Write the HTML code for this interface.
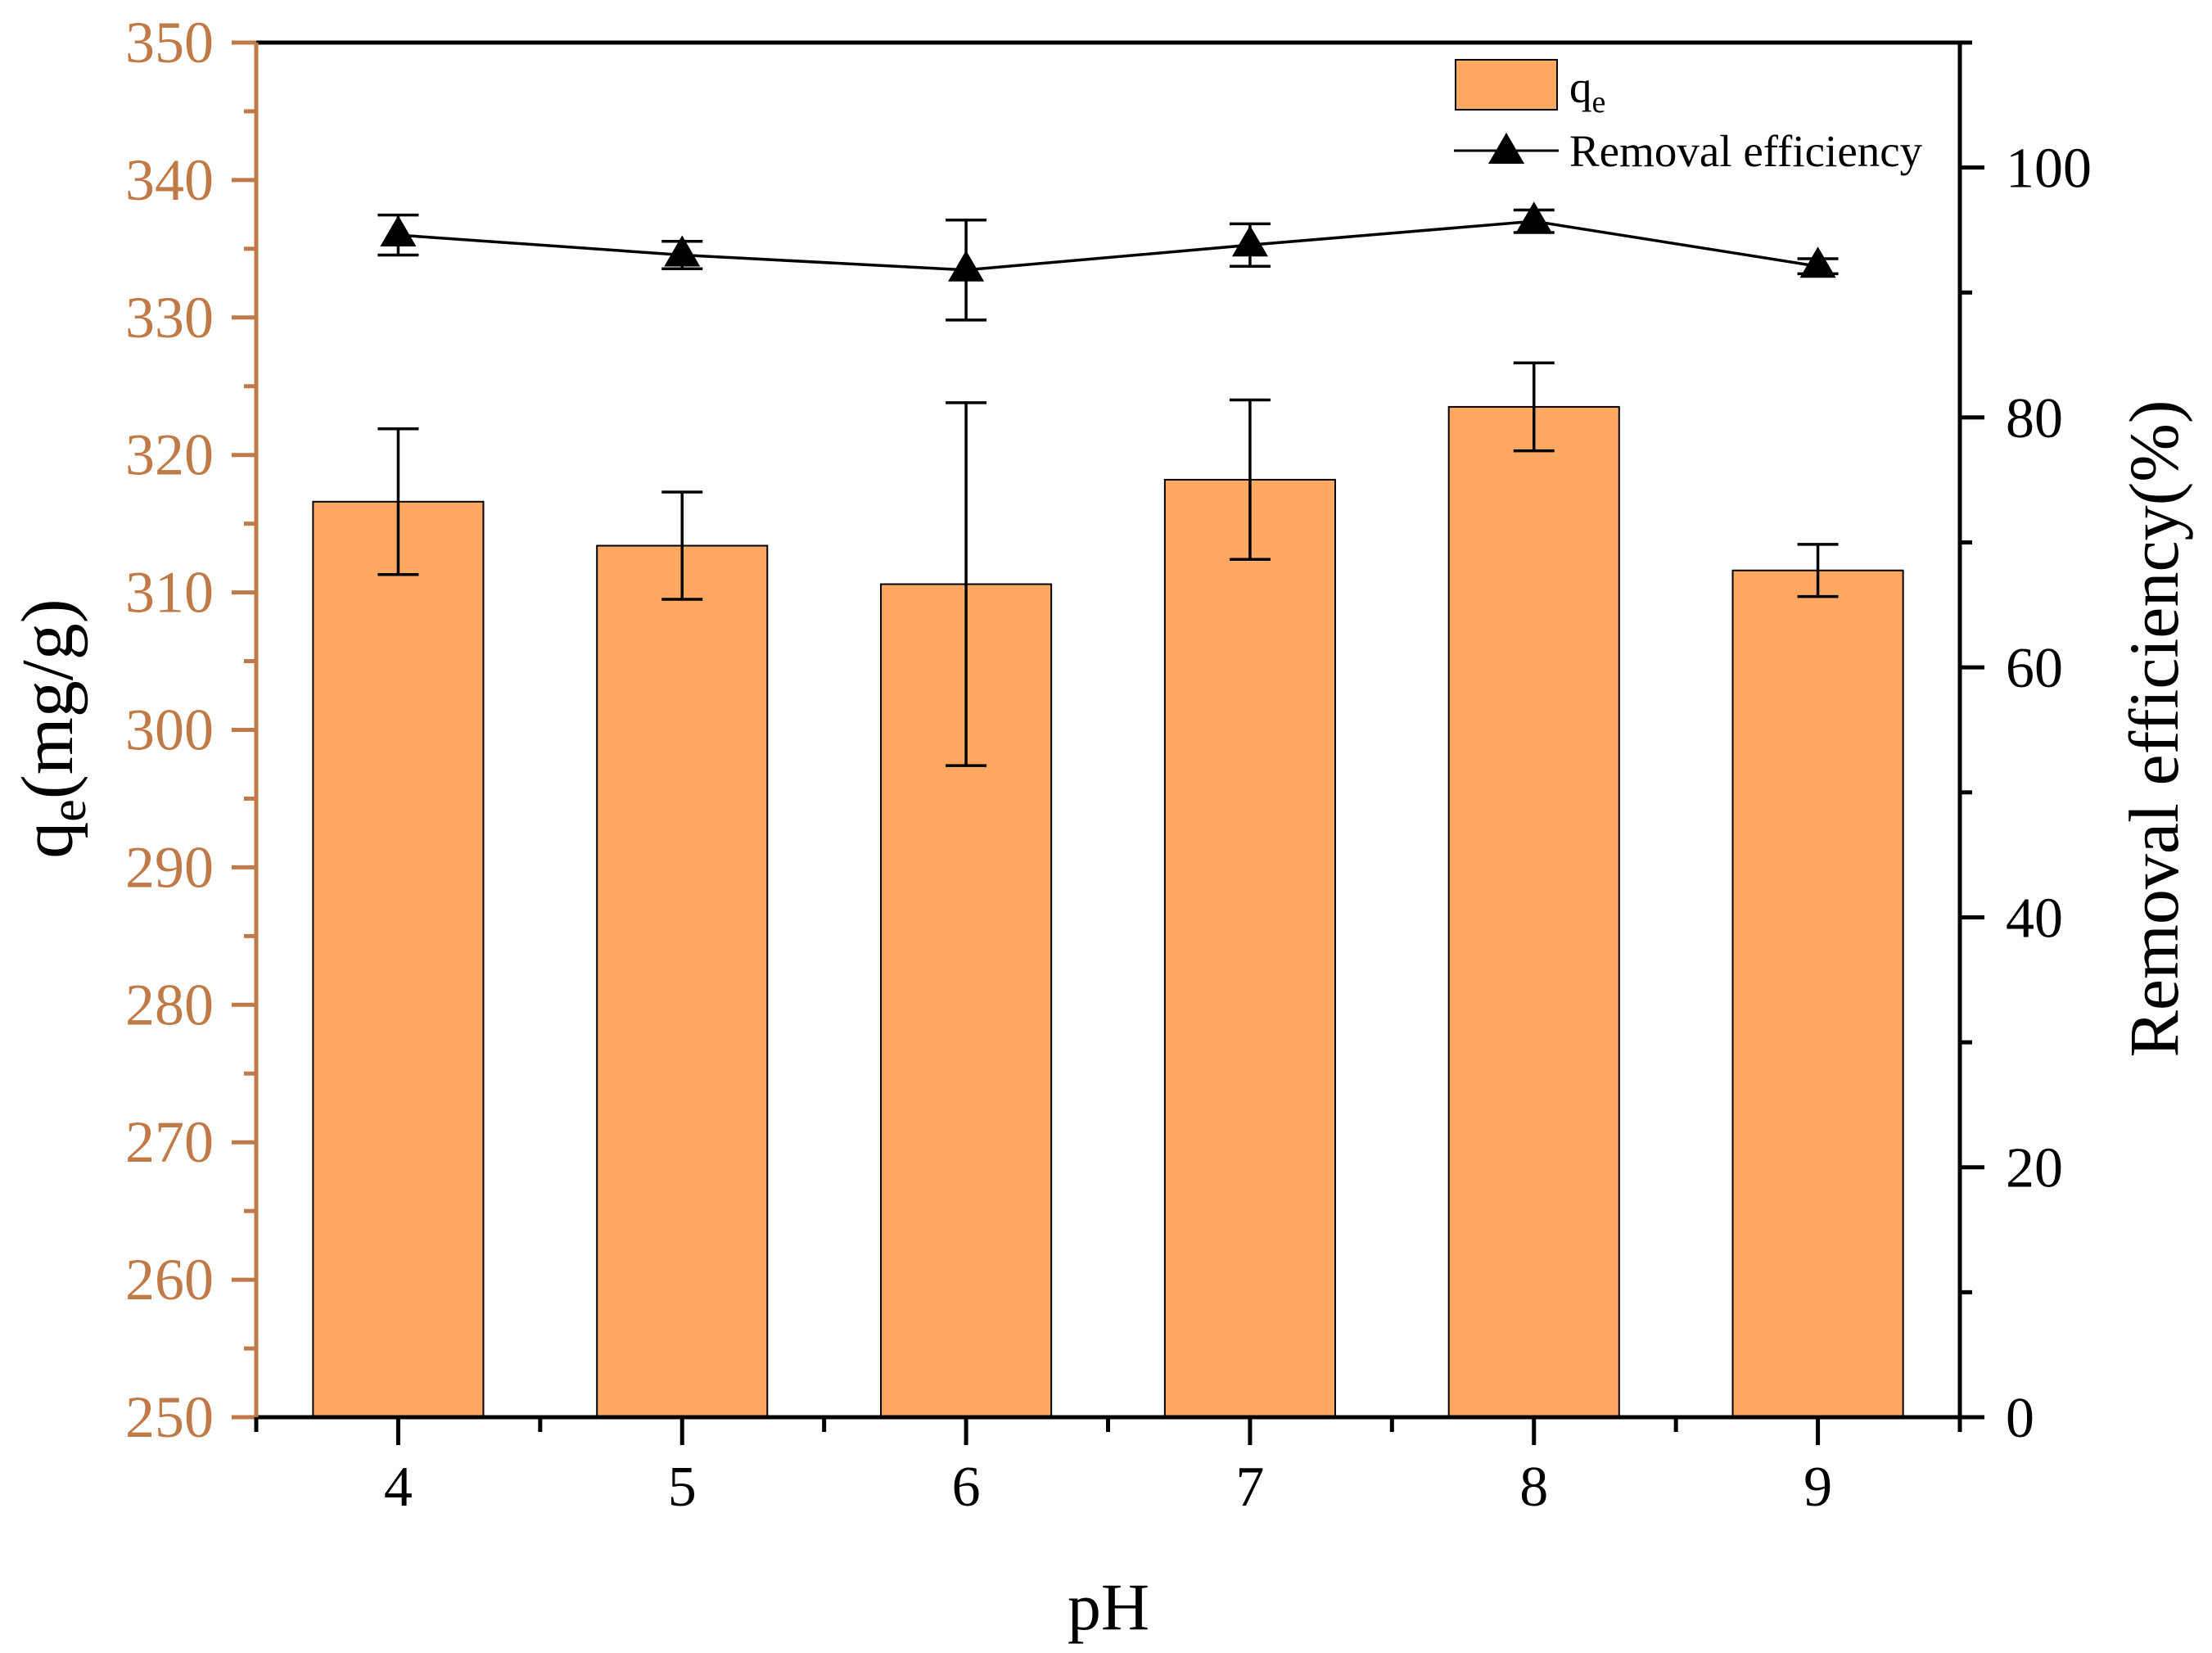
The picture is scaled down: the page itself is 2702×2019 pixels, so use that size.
<!DOCTYPE html>
<html><head><meta charset="utf-8"><style>
html,body{margin:0;padding:0;background:#fff;}
svg{display:block;font-family:"Liberation Serif","DejaVu Serif",serif;}
</style></head><body>
<svg id="chart" width="2702" height="2019" viewBox="0 0 2702 2019" xmlns="http://www.w3.org/2000/svg">
<g id="bars"></g>
<g id="line"></g>
<g id="axes"></g>
<g>
<rect x="1778" y="73" width="124" height="61" fill="#FFA862" stroke="#000" stroke-width="2"/>
<text x="1917" y="125" font-size="55">q<tspan font-size="38" dy="12">e</tspan></text>
<line x1="1776" y1="184" x2="1904" y2="184" stroke="#000" stroke-width="3"/>
<polygon points="1840,162 1862,200 1818,200" fill="#000"/>
<text x="1917" y="203" font-size="55">Removal efficiency</text>
</g>
<text x="1354" y="1990" font-size="82" text-anchor="middle">pH</text>
<text transform="translate(88,890) rotate(-90)" font-size="90" text-anchor="middle">q<tspan font-size="62" dy="16">e</tspan><tspan dy="-16">(mg/g)</tspan></text>
<text transform="translate(2660,890) rotate(-90)" font-size="86" text-anchor="middle">Removal efficiency(%)</text>
</svg>
<script>
const categories = ["4","5","6","7","8","9"];
const qeValues = [316.6, 313.4, 310.6, 318.2, 323.5, 311.6];
const qeErrors = [5.3, 3.9, 13.2, 5.8, 3.2, 1.9];
const removalValues = [94.6, 93.0, 91.8, 93.8, 95.7, 92.1];
const removalErrors = [1.6, 1.1, 4.0, 1.7, 0.9, 0.6];
const leftTicks = [250,260,270,280,290,300,310,320,330,340,350];
const rightTicks = [0,20,40,60,80,100];

const NS="http://www.w3.org/2000/svg";
const L=313,R=2394,T=52,B=1731;
const xS=i=>L+(i+0.5)*(R-L)/categories.length;
const yL=v=>B-(v-250)/100*(B-T);
const yR=v=>B-v/110*(B-T);
function mk(tag,attrs,parent){const e=document.createElementNS(NS,tag);for(const k in attrs)e.setAttribute(k,attrs[k]);parent.appendChild(e);return e;}
const bars=document.getElementById('bars'),line=document.getElementById('line'),axes=document.getElementById('axes');
const bw=(R-L)/categories.length*0.6;
categories.forEach((c,i)=>{
  const x=xS(i),y=yL(qeValues[i]);
  const r=mk('rect',{x:x-bw/2,y:y,width:bw,height:B-y,fill:'#FFA862',stroke:'#000','stroke-width':2},bars);
  
  
  const yt=yL(qeValues[i]+qeErrors[i]),yb=yL(qeValues[i]-qeErrors[i]);
  const e=mk('path',{d:`M${x},${yt}V${yb}M${x-25},${yt}h50M${x-25},${yb}h50`,stroke:'#000','stroke-width':3.5,fill:'none'},bars);
  
  
});
const pts=removalValues.map((v,i)=>[xS(i),yR(v)]);
const pl=mk('polyline',{points:pts.map(p=>p.join(',')).join(' '),fill:'none',stroke:'#000','stroke-width':3.5},line);


removalValues.forEach((v,i)=>{
  const x=xS(i),y=yR(v);
  const yt=yR(v+removalErrors[i]),yb=yR(v-removalErrors[i]);
  const e=mk('path',{d:`M${x},${yt}V${yb}M${x-25},${yt}h50M${x-25},${yb}h50`,stroke:'#000','stroke-width':3.5,fill:'none'},line);
  
  
  const m=mk('polygon',{points:`${x},${y-24} ${x+22},${y+14} ${x-22},${y+14}`,fill:'#000'},line);
  
  
});
const ax=mk('path',{d:`M${L},${T}H${R}M${R},${T}V${B}M${L-10},${B}H${R+30}`,stroke:'#000','stroke-width':5,fill:'none'},axes);


const la=mk('line',{x1:L,y1:T,x2:L,y2:B,stroke:'#C07A48','stroke-width':5},axes);


for(let v=250;v<=350;v+=5){const y=yL(v);const maj=v%10===0;
  const t=mk('line',{x1:maj?L-30:L-15,y1:y,x2:L,y2:y,stroke:'#C07A48','stroke-width':5},axes);
  
  }
leftTicks.forEach(v=>{const t=mk('text',{x:L-52,y:yL(v)+24,'font-size':72,'text-anchor':'end',fill:'#C07A48'},axes);t.textContent=v;
  
  });
for(let v=0;v<=110;v+=10){const y=yR(v);const maj=v%20===0;
  const t=mk('line',{x1:R,y1:y,x2:R+(maj?30:15),y2:y,stroke:'#000','stroke-width':5},axes);
  
  }
rightTicks.forEach(v=>{const t=mk('text',{x:R+56,y:yR(v)+24,'font-size':70,fill:'#000'},axes);t.textContent=v;
  
  });
for(let k=0;k<=categories.length*2;k++){const x=L+k*(R-L)/(categories.length*2);const maj=k%2===1;
  const t=mk('line',{x1:x,y1:B,x2:x,y2:B+(maj?34:18),stroke:'#000','stroke-width':5},axes);
  
  }
categories.forEach((c,i)=>{const t=mk('text',{x:xS(i),y:B+108,'font-size':70,'text-anchor':'middle'},axes);t.textContent=c;
  
  });
</script>
</body></html>
